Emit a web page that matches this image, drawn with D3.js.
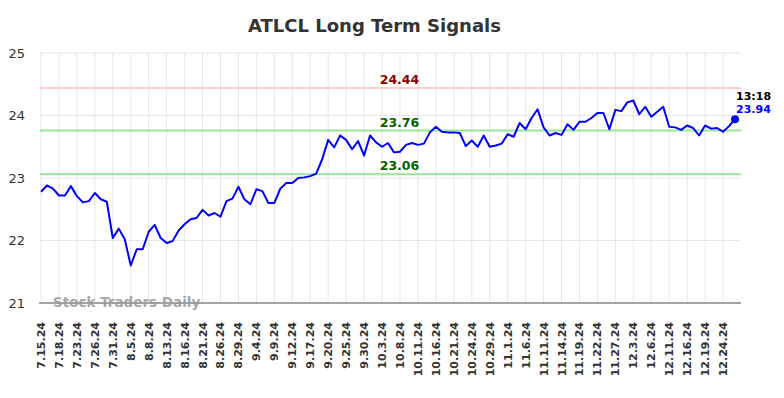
<!DOCTYPE html>
<html>
<head>
<meta charset="utf-8">
<script src="https://cdn.jsdelivr.net/npm/d3@7"></script>
<style>
  html, body { margin: 0; padding: 0; background: #fff; }
  svg { display: block; font-family: "DejaVu Sans", sans-serif; }
</style>
</head>
<body>
<svg id="chart" width="784" height="398"></svg>
<script>
const title = "ATLCL Long Term Signals";
const dates = [
  "7.15.24","7.16.24","7.17.24","7.18.24","7.19.24","7.22.24","7.23.24","7.24.24","7.25.24","7.26.24","7.29.24","7.30.24","7.31.24",
  "8.1.24","8.2.24","8.5.24","8.6.24","8.7.24","8.8.24","8.9.24","8.12.24","8.13.24","8.14.24","8.15.24","8.16.24","8.19.24","8.20.24","8.21.24","8.22.24","8.23.24","8.26.24","8.27.24","8.28.24","8.29.24","8.30.24",
  "9.3.24","9.4.24","9.5.24","9.6.24","9.9.24","9.10.24","9.11.24","9.12.24","9.13.24","9.16.24","9.17.24","9.18.24","9.19.24","9.20.24","9.23.24","9.24.24","9.25.24","9.26.24","9.27.24","9.30.24",
  "10.1.24","10.2.24","10.3.24","10.4.24","10.7.24","10.8.24","10.9.24","10.10.24","10.11.24","10.14.24","10.15.24","10.16.24","10.17.24","10.18.24","10.21.24","10.22.24","10.23.24","10.24.24","10.25.24","10.28.24","10.29.24","10.30.24","10.31.24",
  "11.1.24","11.4.24","11.5.24","11.6.24","11.7.24","11.8.24","11.11.24","11.12.24","11.13.24","11.14.24","11.15.24","11.18.24","11.19.24","11.20.24","11.21.24","11.22.24","11.25.24","11.26.24","11.27.24","11.29.24",
  "12.2.24","12.3.24","12.4.24","12.5.24","12.6.24","12.9.24","12.10.24","12.11.24","12.12.24","12.13.24","12.16.24","12.17.24","12.18.24","12.19.24","12.20.24","12.23.24","12.24.24","12.26.24","12.27.24"
];
const prices = [
  22.78,22.88,22.83,22.72,22.72,22.87,22.71,22.61,22.63,22.76,22.66,22.62,22.04,
  22.19,22.02,21.60,21.86,21.86,22.14,22.25,22.04,21.96,21.99,22.16,22.26,22.34,22.36,22.49,22.40,22.44,22.38,22.63,22.67,22.86,22.66,
  22.58,22.82,22.79,22.60,22.60,22.83,22.92,22.92,23.00,23.01,23.03,23.07,23.30,23.61,23.49,23.68,23.61,23.46,23.59,23.36,
  23.68,23.57,23.50,23.56,23.41,23.42,23.53,23.56,23.53,23.55,23.73,23.82,23.74,23.73,23.73,23.72,23.51,23.60,23.50,23.68,23.50,23.52,23.55,
  23.70,23.66,23.88,23.78,23.96,24.10,23.81,23.68,23.72,23.69,23.86,23.77,23.90,23.90,23.96,24.04,24.04,23.78,24.09,24.07,
  24.21,24.24,24.02,24.14,23.98,24.06,24.14,23.82,23.81,23.77,23.84,23.80,23.68,23.84,23.79,23.80,23.74,23.83,23.94
];
const tickLabels = ["7.15.24","7.18.24","7.23.24","7.26.24","7.31.24","8.5.24","8.8.24","8.13.24","8.16.24","8.21.24","8.26.24","8.29.24","9.4.24","9.9.24","9.12.24","9.17.24","9.20.24","9.25.24","9.30.24","10.3.24","10.8.24","10.11.24","10.16.24","10.21.24","10.24.24","10.29.24","11.1.24","11.6.24","11.11.24","11.14.24","11.19.24","11.22.24","11.27.24","12.3.24","12.6.24","12.11.24","12.16.24","12.19.24","12.24.24"];
const yTicks = [21, 22, 23, 24, 25];
const levels = [24.44, 23.76, 23.06];
const levelKinds = ["resistance", "support", "support"];
const lastTime = "13:18";
const watermark = "Stock Traders Daily";

const svg = d3.select("#chart");
const x = d3.scaleLinear().domain([0, dates.length]).range([41, 741]);
const y = d3.scaleLinear().domain([21, 25]).range([303, 53]);
const idxOf = d => dates.indexOf(d);

// title
svg.append("text").attr("x", 374.5).attr("y", 32).attr("text-anchor", "middle")
  .attr("font-size", 18).attr("font-weight", "bold").attr("fill", "#333").text(title);

// horizontal grid
svg.append("g").selectAll("line").data(yTicks).join("line")
  .attr("x1", 40).attr("x2", 741).attr("y1", d => y(d)).attr("y2", d => y(d))
  .attr("stroke", "#e6e6e6").attr("stroke-width", 1);

// vertical grid
svg.append("g").selectAll("line").data(tickLabels).join("line")
  .attr("x1", d => x(idxOf(d))).attr("x2", d => x(idxOf(d)))
  .attr("y1", 53).attr("y2", 303)
  .attr("stroke", "#e6e6e6").attr("stroke-width", 1);

// y labels
svg.append("g").selectAll("text").data(yTicks).join("text")
  .attr("x", 25).attr("y", d => y(d)).attr("dy", "0.36em").attr("text-anchor", "end")
  .attr("font-size", 13).attr("fill", "#333").text(d => d);

// x labels
svg.append("g").selectAll("text").data(tickLabels).join("text")
  .attr("transform", d => `translate(${x(idxOf(d)) + 4},322) rotate(-90)`)
  .attr("text-anchor", "end").attr("font-size", 11).attr("font-weight", "bold")
  .attr("fill", "#333").text(d => d);

// level lines
const lvl = svg.append("g");
levels.forEach((v, i) => {
  const res = levelKinds[i] === "resistance";
  lvl.append("line").attr("x1", 40).attr("x2", 741).attr("y1", y(v)).attr("y2", y(v))
    .attr("stroke", res ? "#ffcccc" : "#99e699").attr("stroke-width", 2);
  lvl.append("text").attr("x", 399.5).attr("y", y(v) - 4).attr("text-anchor", "middle")
    .attr("font-size", 12.5).attr("font-weight", "bold")
    .attr("fill", res ? "#8b0000" : "#006400").text(v.toFixed(2));
});

// bottom axis line
svg.append("line").attr("x1", 39).attr("x2", 741).attr("y1", 303).attr("y2", 303)
  .attr("stroke", "#555").attr("stroke-width", 1.2);

// watermark
svg.append("text").attr("x", 53).attr("y", 307).attr("font-size", 13.5)
  .attr("font-weight", "bold").attr("fill", "#999").attr("opacity", 0.85).text(watermark);

// price line
const line = d3.line().x((d, i) => x(i)).y(d => y(d));
svg.append("path").datum(prices).attr("d", line)
  .attr("fill", "none").attr("stroke", "#0000ff").attr("stroke-width", 2)
  .attr("stroke-linejoin", "round");

// last point
const li = prices.length - 1;
svg.append("circle").attr("cx", x(li)).attr("cy", y(prices[li])).attr("r", 4).attr("fill", "#0000ff");
svg.append("text").attr("x", x(li) + 1).attr("y", 100).attr("font-size", 11)
  .attr("font-weight", "bold").attr("fill", "#000").text(lastTime);
svg.append("text").attr("x", x(li) + 1).attr("y", 113.3).attr("font-size", 11)
  .attr("font-weight", "bold").attr("fill", "#0000ff").text(prices[li].toFixed(2));
</script>
</body>
</html>
